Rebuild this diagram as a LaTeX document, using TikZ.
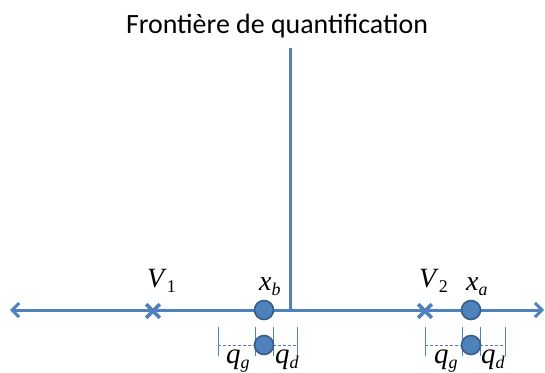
\documentclass[tikz,border=0pt]{standalone}
\usepackage{fontspec}
\newfontfamily\titlefont{Carlito}
\newfontfamily\labfont{Liberation Serif}
\usetikzlibrary{arrows.meta,shapes.misc}
\definecolor{axisblue}{RGB}{79,129,189}
\definecolor{dotblue}{RGB}{79,129,189}
\definecolor{rimblue}{RGB}{56,93,138}
% letter with a lowered index
\newcommand{\idx}[2]{\textit{#1}\raisebox{-5bp}{\fontsize{18}{18}\selectfont #2}}

\begin{document}
\begin{tikzpicture}[
        x=1bp, y=-1bp,
        axis/.style={draw=axisblue,line width=3bp},
        dot/.style={circle,fill=dotblue,draw=rimblue,line width=1.6bp,minimum size=19bp,inner sep=0pt},
        cross/.style={cross out,draw=axisblue,line width=3.6bp,minimum size=10bp,inner sep=0pt},
        tick/.style={draw=axisblue,line width=0.7bp},
        gap/.style={draw=axisblue,line width=0.7bp,dash pattern=on 3bp off 2bp},
        lab/.style={font=\labfont\fontsize{28}{28}\selectfont,inner sep=0pt,anchor=base west},
        qlab/.style={font=\labfont\fontsize{29}{29}\selectfont,inner sep=0pt,anchor=base west}
      ]
        \useasboundingbox (0,0) rectangle (545,372);
        \node[font=\titlefont\fontsize{28}{28}\selectfont,anchor=base] (title) at (277,33) {Frontière de quantification};
        \coordinate (left)  at (10,310);
        \coordinate (right) at (544,310);
        \coordinate (top)   at (290,48);
        \coordinate (foot)  at (290,310);
        \draw[axis,{Straight Barb[length=7bp,width=14bp]}-{Straight Barb[length=7bp,width=14bp]}] (left) -- (right);
        \draw[axis] (top) -- (foot);

        % points on the axis
        \node[cross] (V1) at (153,311) {};
        \node[cross] (V2) at (425,311) {};
        \node[dot]   (xb) at (264,310) {};
        \node[dot]   (xa) at (471,310) {};
        \node[lab] (V1lab) at (147,287) {\idx{V}{1}};
        \node[lab] (V2lab) at (419,287) {\idx{V}{2}};
        \node[lab] (xblab) at (259,290) {\idx{x}{\textit{b}}};
        \node[lab] (xalab) at (466,290) {\idx{x}{\textit{a}}};

        % quantification steps
        \foreach \n/\xl/\xm/\xr/\xc in {b/218/255/297/264, a/425/462/505/471}{
          \coordinate (L\n) at (\xl,345);
          \coordinate (R\n) at (\xr,345);
          \draw[gap] (L\n) -- (R\n);
          \draw[tick] (\xl,327) -- (\xl,356);
          \draw[tick] (\xm,327) -- (\xm,356);
          \draw[tick] (\xm+18,327) -- (\xm+18,356);
          \draw[tick] (\xr,327) -- (\xr,356);
          \node[dot] (s\n) at (\xc,345) {};
        }
        \node[qlab] (qgb) at (226,363) {\idx{q}{\textit{g}}};
        \node[qlab] (qdb) at (275,363) {\idx{q}{\textit{d}}};
        \node[qlab] (qga) at (434,363) {\idx{q}{\textit{g}}};
        \node[qlab] (qda) at (481,363) {\idx{q}{\textit{d}}};
      \end{tikzpicture}
\end{document}
